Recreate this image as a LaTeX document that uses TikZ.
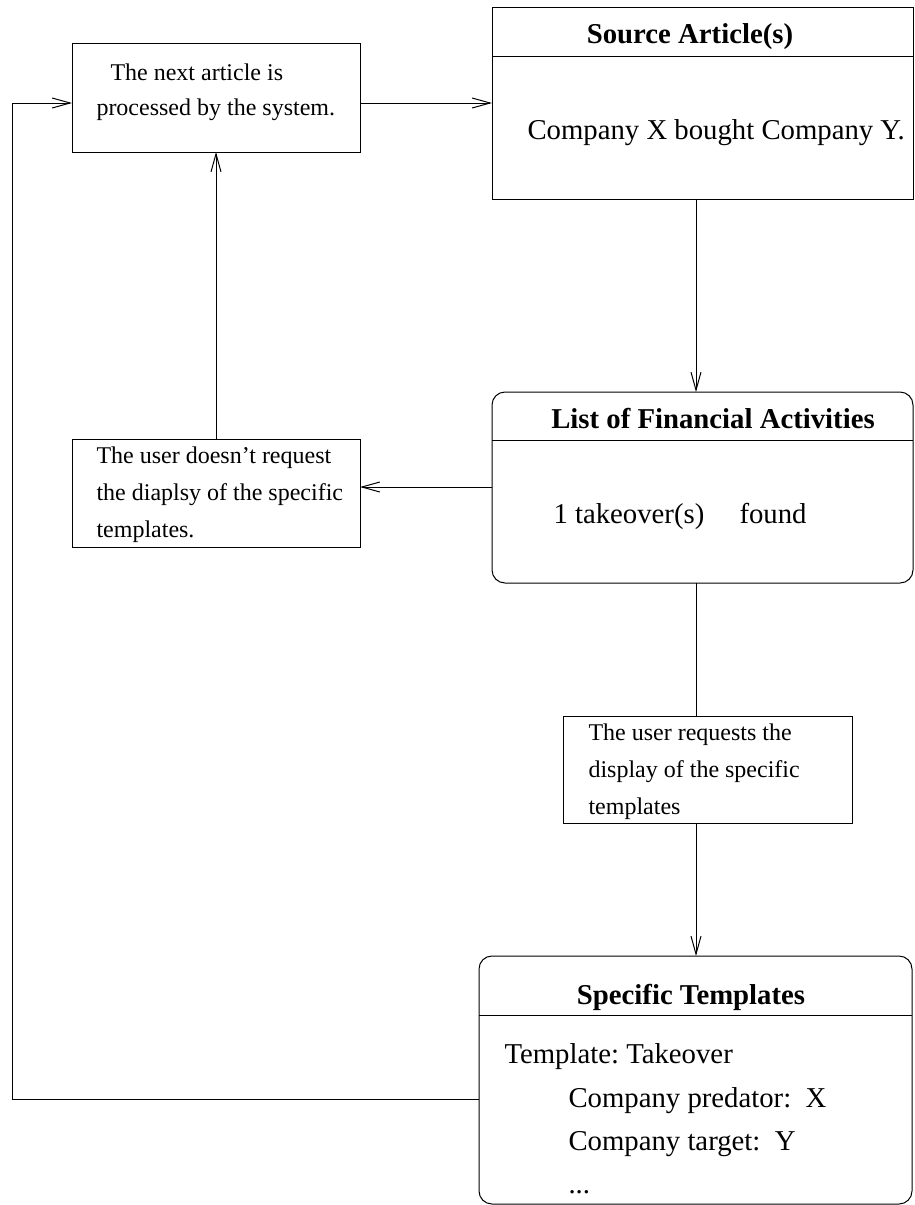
\documentclass[tikz,border=0pt]{standalone}
\usepackage{fontspec}
\setmainfont{Liberation Serif}
\usetikzlibrary{arrows.meta}
\frenchspacing
\begin{document}
\begin{tikzpicture}[x=1pt,y=-1pt,line width=1pt,
  box/.style={draw,rectangle,inner sep=0pt,outer sep=0pt},
  rbox/.style={box,rounded corners=13pt},
  sm/.style={anchor=base west,inner sep=0pt,font=\fontsize{24}{28}\selectfont},
  lg/.style={anchor=base west,inner sep=0pt,font=\fontsize{28.75}{34}\selectfont},
  ttl/.style={anchor=base,inner sep=0pt,font=\fontsize{28.75}{34}\selectfont\bfseries},
  arr/.style={-{Straight Barb[length=18pt,width=10pt]}}]
\useasboundingbox (0,0) rectangle (914,1205);
% boxes
\node[box,minimum width=288pt,minimum height=109pt] (A) at (216,97.5) {};
\node[box,minimum width=421pt,minimum height=192pt] (src) at (702.5,103) {};
\node[rbox,minimum width=421pt,minimum height=191pt] (list) at (702.5,487.5) {};
\node[box,minimum width=288pt,minimum height=108pt] (B) at (216,493) {};
\node[box,minimum width=289pt,minimum height=107pt] (C) at (707.5,769.5) {};
\node[rbox,minimum width=433pt,minimum height=248pt] (spec) at (695.5,1080) {};
% header separators
\coordinate (hs) at (0,56);
\coordinate (hl) at (0,440);
\coordinate (hp) at (0,1015);
\draw (src.west |- hs) -- (src.east |- hs);
\draw (list.west |- hl) -- (list.east |- hl);
\draw (spec.west |- hp) -- (spec.east |- hp);
% texts
\node[sm] (a1) at (110,80) {The next article is};
\node[sm] (a2) at (96,115) {processed by the system.};
\node[ttl] (st) at (690,43) {Source Article(s)};
\node[lg] (s1) at (527,139) {Company X bought Company Y.};
\node[ttl] (lt) at (713,428) {List of Financial Activities};
\node[lg] (l1) at (553,523) {1 takeover(s)};
\node[lg] (l2) at (739,523) {found};
\node[sm] (b1) at (96,463) {The user doesn’t request};
\node[sm] (b2) at (96,500) {the diaplsy of the specific};
\node[sm] (b3) at (96,537) {templates.};
\node[sm] (c1) at (588,740) {The user requests the};
\node[sm] (c2) at (588,777) {display of the specific};
\node[sm] (c3) at (588,814) {templates};
\node[ttl] (pt) at (691,1004) {Specific Templates};
\node[lg] (p1) at (504,1063) {Template: Takeover};
\node[lg] (p2) at (568,1107) {Company predator:\ \ X};
\node[lg] (p3) at (568,1150) {Company target:\ \ Y};
\node[lg] (p4) at (568,1193) {...};
% connectors
\coordinate (vx) at (696,0);
\coordinate (hy) at (0,103);
\coordinate (by) at (0,487);
\coordinate (ly) at (0,1099);
\coordinate (lb) at (12,1099);
\coordinate (lt2) at (12,103);
\draw[arr] (A.east |- hy) -- (src.west |- hy);
\draw[arr] (src.south -| vx) -- (list.north -| vx);
\draw[arr] (list.west |- by) -- (B.east |- by);
\draw[arr] (B.north) -- (A.south);
\draw (list.south -| vx) -- (C.north -| vx);
\draw[arr] (C.south -| vx) -- (spec.north -| vx);
\draw[arr] (spec.west |- ly) -- (lb) -- (lt2) -- (A.west |- hy);
\end{tikzpicture}
\end{document}
